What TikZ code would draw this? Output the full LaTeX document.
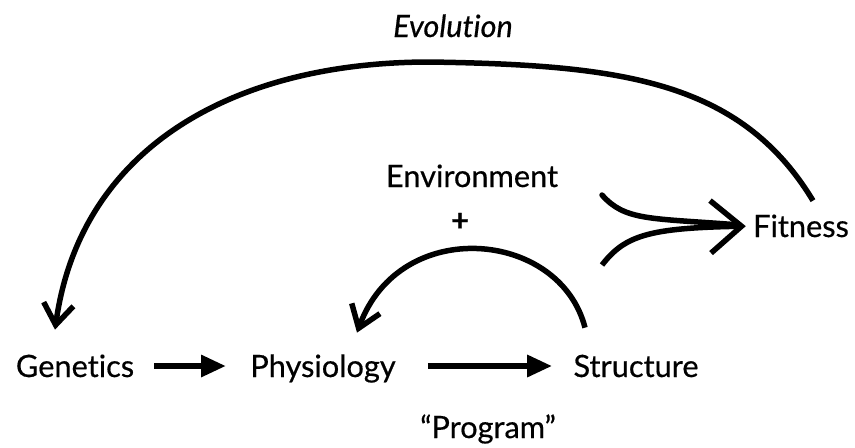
\documentclass[tikz,border=0pt]{standalone}
\usepackage{fontspec}
\setmainfont{Lato}[Ligatures=NoCommon, FakeBold=0.5]
\usepackage{tikz}
\usetikzlibrary{arrows.meta,positioning}

\begin{document}
\begin{tikzpicture}[
    x=0.02cm, y=-0.02cm,
    term/.style={font=\fontsize{17.5}{21}\selectfont, inner sep=0pt, text height=0.44cm, text depth=0pt, anchor=base},
    flowarrow/.style={-{Triangle[length=0.5cm, width=0.42cm]}, line width=0.12cm},
    looparrow/.style={-{Straight Barb[length=0.42cm, width=0.6cm]}, line width=0.11cm},
    mergearrow/.style={-{Straight Barb[length=0.62cm, width=1.05cm]}, line width=0.11cm}
]
\useasboundingbox (0,0) rectangle (855,447);

% Bottom row: the "program"
\node[term] (genetics) at (75,377) {Genetics};
\node[term] (physiology) at (323,377) {Physiology};
\node[term] (structure) at (636,377) {Structure};
\node[term] (program) at (488,438) {“Program”};

\draw[flowarrow, shorten <=0.4cm, shorten >=0.48cm] (genetics) -- (physiology);
\draw[flowarrow, shorten <=0.64cm, shorten >=0.42cm] (physiology) -- (structure);

% Middle: environment and fitness
\node[term] (environment) at (472,187) {Environment};
\node[term, font=\fontsize{17.5}{21}\selectfont\bfseries] (plus) at (460,231) {+};
\node[term] (fitness) at (801,237) {Fitness};

\draw[looparrow] ([shift={(-51,-27)}]structure.north) .. controls (560,230) and (400,215) .. ([shift={(34,-22)}]physiology.north);

\coordinate (envup) at (602,195);
\coordinate (envdown) at (602,265);
\draw[line width=0.11cm, line cap=round, shorten >=0.3cm] (envup) .. controls (625,221) and (650,218) .. (fitness.west);
\draw[mergearrow, shorten >=0.14cm] (envdown) .. controls (625,235) and (650,228) .. (fitness.west);

% Top: evolution loop
\node[term, font=\fontsize{17.5}{21}\selectfont\itshape] (evolution) at (453,37) {Evolution};

\draw[looparrow] ([shift={(12,-14)}]fitness.north) .. controls (740,80) and (620,65) .. (430,62) .. controls (230,62) and (80,150) .. ([shift={(-20,-25)}]genetics.north);

\end{tikzpicture}
\end{document}
